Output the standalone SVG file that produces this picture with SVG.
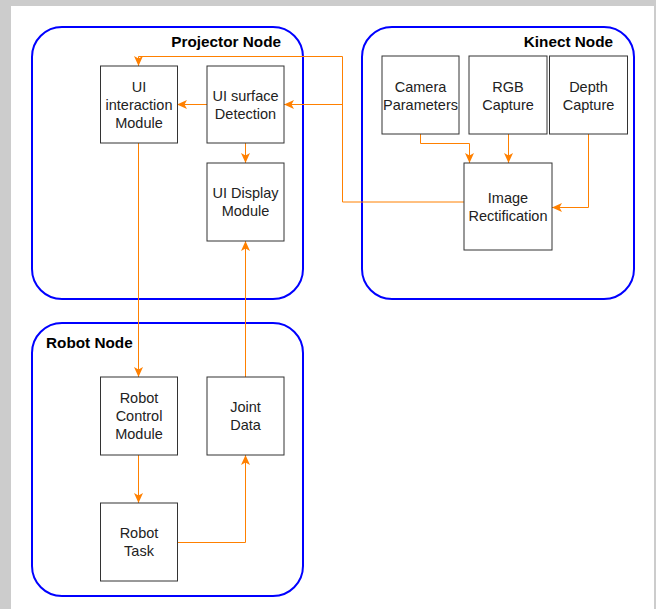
<svg xmlns="http://www.w3.org/2000/svg" width="656" height="609" viewBox="0 0 656 609">
<defs>
<marker id="arr" markerUnits="userSpaceOnUse" markerWidth="10" markerHeight="10" viewBox="0 0 10 10" refX="10" refY="5" orient="auto">
<path d="M0,0.5 L10,5 L0,9.5 L2.5,5 z" fill="#FF8000"/>
</marker>
</defs>
<style>
.grp{fill:none;stroke:#0000FF;stroke-width:2}
.box{fill:#ffffff;stroke:#333333;stroke-width:1}
.t{font-family:"Liberation Sans",Arial,sans-serif;font-size:14.5px;fill:#222222;text-anchor:middle}
.h{font-family:"Liberation Sans",Arial,sans-serif;font-size:15.3px;font-weight:bold;fill:#000000}
.c{fill:none;stroke:#FF8000;stroke-width:1}
.ca{fill:none;stroke:#FF8000;stroke-width:1;marker-end:url(#arr)}
</style>
<rect x="0" y="0" width="656" height="609" fill="#cccccc"/>
<rect x="11" y="6" width="643" height="603" fill="#ffffff"/>

<g id="projector-node">
<rect class="grp" x="32" y="27" width="271" height="272" rx="30" ry="30"/>
<text class="h" x="281" y="47" text-anchor="end">Projector Node</text>
</g>
<g id="kinect-node">
<rect class="grp" x="362" y="27" width="272" height="272" rx="30" ry="30"/>
<text class="h" x="613" y="47" text-anchor="end">Kinect Node</text>
</g>
<g id="robot-node">
<rect class="grp" x="32" y="323" width="271" height="273" rx="30" ry="30"/>
<text class="h" x="46" y="348">Robot Node</text>
</g>

<g id="connectors">
<polyline class="ca" points="464,202 342.5,202 342.5,56.5 138.5,56.5 138.5,66"/>
<polyline class="ca" points="342.5,104.5 284,104.5"/>
<polyline class="ca" points="207,104.5 177,104.5"/>
<polyline class="ca" points="245.5,143 245.5,163"/>
<polyline class="ca" points="138.5,143 138.5,377"/>
<polyline class="ca" points="245.5,377 245.5,241"/>
<polyline class="ca" points="138.5,455 138.5,503"/>
<polyline class="ca" points="177,542.5 245.5,542.5 245.5,455"/>
<polyline class="ca" points="420.5,134 420.5,143.5 469.5,143.5 469.5,163"/>
<polyline class="ca" points="508.5,134 508.5,163"/>
<polyline class="ca" points="588.5,134 588.5,207.5 552,207.5"/>
</g>

<g id="ui-interaction-module">
<rect class="box" x="100.5" y="66" width="77" height="77"/>
<text class="t" x="139" y="92">UI</text>
<text class="t" x="139" y="110">interaction</text>
<text class="t" x="139" y="128">Module</text>
</g>
<g id="ui-surface-detection">
<rect class="box" x="207" y="66" width="77" height="77"/>
<text class="t" x="245.5" y="101">UI surface</text>
<text class="t" x="245.5" y="119">Detection</text>
</g>
<g id="ui-display-module">
<rect class="box" x="207" y="163" width="77" height="78"/>
<text class="t" x="245.5" y="198">UI Display</text>
<text class="t" x="245.5" y="216">Module</text>
</g>
<g id="camera-parameters">
<rect class="box" x="382" y="56" width="77" height="78"/>
<text class="t" x="420.5" y="91.5">Camera</text>
<text class="t" x="420.5" y="109.5">Parameters</text>
</g>
<g id="rgb-capture">
<rect class="box" x="469" y="56" width="78" height="78"/>
<text class="t" x="508" y="91.5">RGB</text>
<text class="t" x="508" y="109.5">Capture</text>
</g>
<g id="depth-capture">
<rect class="box" x="549.5" y="56" width="78" height="78"/>
<text class="t" x="588.5" y="91.5">Depth</text>
<text class="t" x="588.5" y="109.5">Capture</text>
</g>
<g id="image-rectification">
<rect class="box" x="464" y="163" width="88" height="87"/>
<text class="t" x="508" y="203">Image</text>
<text class="t" x="508" y="221">Rectification</text>
</g>
<g id="robot-control-module">
<rect class="box" x="100.5" y="377" width="77" height="78"/>
<text class="t" x="139" y="403">Robot</text>
<text class="t" x="139" y="421">Control</text>
<text class="t" x="139" y="439">Module</text>
</g>
<g id="joint-data">
<rect class="box" x="207" y="377" width="77" height="78"/>
<text class="t" x="245.5" y="412">Joint</text>
<text class="t" x="245.5" y="430">Data</text>
</g>
<g id="robot-task">
<rect class="box" x="100.5" y="503" width="77" height="78"/>
<text class="t" x="139" y="538">Robot</text>
<text class="t" x="139" y="556">Task</text>
</g>
</svg>
